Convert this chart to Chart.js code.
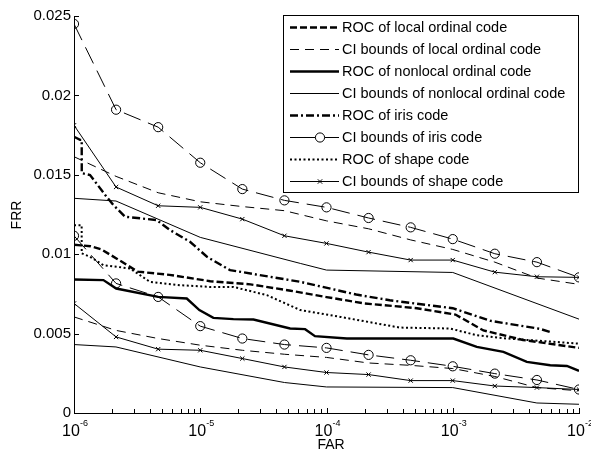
<!DOCTYPE html>
<html>
<head>
<meta charset="utf-8">
<script src="https://cdn.jsdelivr.net/npm/chart.js@4/dist/chart.umd.min.js"></script>
<style>
html,body{margin:0;padding:0;background:#fff;}
#wrap{width:591px;height:456px;}
</style>
</head>
<body>
<div id="wrap"><canvas id="c" width="591" height="456"></canvas></div>
<script>
// ---- data ----
const xThird = [1e-6, 2.154e-6, 4.642e-6, 1e-5, 2.154e-5, 4.642e-5, 1e-4, 2.154e-4, 4.642e-4, 1e-3, 2.154e-3, 4.642e-3, 1e-2];

const localRocX = [1e-6, 1.35e-6, 1.65e-6, 2.2e-6, 3.2e-6, 5.7e-6, 1.2e-5, 2.5e-5, 5.2e-5, 1e-4, 2e-4, 5.2e-4, 1.05e-3, 1.75e-3, 3.6e-3, 1e-2];
const localRocY = [0.0106, 0.0105, 0.0103, 0.0097, 0.0089, 0.0087, 0.0083, 0.0081, 0.0077, 0.0073, 0.0069, 0.0066, 0.0062, 0.0052, 0.0046, 0.0041];

const localCIUpper = [0.01614, 0.0149, 0.01387, 0.0133, 0.0130, 0.01274, 0.0121, 0.0116, 0.0109, 0.0103, 0.0095, 0.0085, 0.0081];
const localCILower = [0.00605, 0.0052, 0.00469, 0.00427, 0.00395, 0.0037, 0.0035, 0.00315, 0.0030, 0.0028, 0.0023, 0.0016, 0.0014];

const nonlocalRocX = [1e-6, 1.71e-6, 2.16e-6, 4.64e-6, 7.82e-6, 9.84e-6, 1.27e-5, 1.83e-5, 2.64e-5, 5.15e-5, 6.77e-5, 8.1e-5, 1.45e-4, 1.01e-3, 1.55e-3, 2.52e-3, 3.86e-3, 5.92e-3, 8.02e-3, 1e-2];
const nonlocalRocY = [0.00841, 0.00837, 0.00784, 0.00731, 0.00721, 0.00648, 0.00599, 0.00591, 0.00589, 0.00532, 0.00528, 0.00484, 0.00469, 0.00469, 0.00416, 0.00385, 0.00322, 0.00301, 0.00296, 0.00265];

const nonlocalCIUpperX = [1e-6, 2.15e-6, 1e-5, 6.2e-5, 1e-4, 1e-3, 1e-2];
const nonlocalCIUpperY = [0.01352, 0.01335, 0.01106, 0.00942, 0.0090, 0.00885, 0.00591];
const nonlocalCILowerX = [1e-6, 2.15e-6, 1e-5, 4.64e-5, 1e-4, 1e-3, 4.64e-3, 1e-2];
const nonlocalCILowerY = [0.00431, 0.00416, 0.0029, 0.00192, 0.00164, 0.0016, 0.00063, 0.00055];

const irisRocX = [1e-6, 1.116e-6, 1.151e-6, 1.152e-6, 1.34e-6, 1.81e-6, 2.05e-6, 2.54e-6, 4.52e-6, 5.76e-6, 8.3e-6, 1.13e-5, 1.72e-5, 6.2e-5, 1.72e-4, 3.17e-4, 1e-3, 2e-3, 4.9e-3, 5.92e-3];
const irisRocY = [0.0174, 0.0172, 0.0172, 0.0151, 0.01499, 0.01362, 0.0131, 0.01236, 0.01215, 0.01152, 0.01078, 0.00984, 0.0090, 0.00826, 0.00746, 0.0071, 0.0066, 0.0058, 0.0053, 0.0051];

const irisCIUpper = [0.0245, 0.0191, 0.0180, 0.01576, 0.0141, 0.01339, 0.01295, 0.01228, 0.01169, 0.01095, 0.01003, 0.0095, 0.00854];
const irisCILower = [0.01116, 0.00816, 0.00731, 0.00547, 0.00469, 0.00431, 0.0041, 0.00366, 0.00332, 0.00294, 0.00248, 0.00208, 0.00148];

const shapeRocX = [1e-6, 1.15e-6, 1.151e-6, 1.34e-6, 1.71e-6, 2.78e-6, 4.0e-6, 6.9e-6, 1.19e-5, 1.83e-5, 3.37e-5, 6.2e-5, 1.29e-4, 3.8e-4, 9.5e-4, 1.55e-3, 2.7e-3, 1e-2];
const shapeRocY = [0.01183, 0.01183, 0.01005, 0.00984, 0.00931, 0.0091, 0.00826, 0.00805, 0.00794, 0.00794, 0.00742, 0.00648, 0.00605, 0.00538, 0.00532, 0.0049, 0.00469, 0.00437];

const shapeCIUpper = [0.01812, 0.01423, 0.01305, 0.01295, 0.01221, 0.01116, 0.01068, 0.01013, 0.00963, 0.00963, 0.00887, 0.00858, 0.00854];
const shapeCILower = [0.0069, 0.00479, 0.00402, 0.00395, 0.00343, 0.0029, 0.00255, 0.00242, 0.00204, 0.00204, 0.0017, 0.0016, 0.00148];

const yTicks = [0, 0.005, 0.01, 0.015, 0.02, 0.025];
const yTickLabels = ['0', '0.005', '0.01', '0.015', '0.02', '0.025'];
const xDecades = [-6, -5, -4, -3, -2];

const legendLabels = [
  'ROC of local ordinal code',
  'CI bounds of local ordinal code',
  'ROC of nonlocal ordinal code',
  'CI bounds of nonlocal ordinal code',
  'ROC of iris code',
  'CI bounds of iris code',
  'ROC of shape code',
  'CI bounds of shape code'
];

// ---- styles ----
const styles = [
  {w: 2.4, dash: [7, 3], marker: null},
  {w: 1, dash: [9, 6], marker: null},
  {w: 2.4, dash: [], marker: null},
  {w: 1, dash: [], marker: null},
  {w: 2.4, dash: [8, 3, 2, 3], marker: null},
  {w: 1, dash: [], marker: 'circle', plotDash: [18, 8]},
  {w: 2, dash: [2, 2.5], marker: null},
  {w: 1, dash: [], marker: 'crossRot'}
];

function pts(xs, ys) { return xs.map((x, i) => ({x: x, y: ys[i]})); }

function ds(data, si, plotDash) {
  const s = styles[si];
  return {
    data: data,
    borderColor: '#000',
    borderWidth: s.w,
    borderDash: plotDash || s.dash,
    pointStyle: s.marker || 'circle',
    pointRadius: s.marker === 'circle' ? 4.6 : (s.marker === 'crossRot' ? 3 : 0),
    pointBorderColor: '#000',
    pointBackgroundColor: 'rgba(0,0,0,0)',
    pointBorderWidth: 1,
    fill: false,
    tension: 0,
    spanGaps: true
  };
}

const datasets = [
  ds(pts(xThird, localCIUpper), 1),
  ds(pts(xThird, localCILower), 1),
  ds(pts(nonlocalCIUpperX, nonlocalCIUpperY), 3),
  ds(pts(nonlocalCILowerX, nonlocalCILowerY), 3),
  ds(pts(xThird, irisCIUpper), 5, styles[5].plotDash),
  ds(pts(xThird, irisCILower), 5, styles[5].plotDash),
  ds(pts(xThird, shapeCIUpper), 7),
  ds(pts(xThird, shapeCILower), 7),
  ds(pts(localRocX, localRocY), 0),
  ds(pts(nonlocalRocX, nonlocalRocY), 2),
  ds(pts(irisRocX, irisRocY), 4),
  ds(pts(shapeRocX, shapeRocY), 6)
];

const FONT = "'Liberation Sans', Arial, sans-serif";

const decor = {
  id: 'decor',
  afterDatasetsDraw(chart) {
    const ctx = chart.ctx;
    const xs = chart.scales.x, ys = chart.scales.y;
    const a = chart.chartArea;
    ctx.save();
    ctx.strokeStyle = '#000';
    ctx.lineWidth = 1;
    ctx.setLineDash([]);
    // y ticks (inward)
    yTicks.forEach(v => {
      const py = Math.round(ys.getPixelForValue(v)) + 0.5;
      ctx.beginPath();
      ctx.moveTo(a.left, py);
      ctx.lineTo(a.left + 5, py);
      ctx.stroke();
    });
    // x ticks (inward), log major + minor
    for (let e = -6; e <= -2; e++) {
      for (let m = 1; m <= 9; m++) {
        const v = m * Math.pow(10, e);
        if (v > 1.0001e-2) break;
        const px = Math.round(xs.getPixelForValue(v)) + 0.5;
        const len = m === 1 ? 5 : 4;
        ctx.beginPath();
        ctx.moveTo(px, a.bottom);
        ctx.lineTo(px, a.bottom - len);
        ctx.stroke();
      }
    }
    // x tick labels 10^n
    ctx.fillStyle = '#000';
    ctx.textBaseline = 'alphabetic';
    xDecades.forEach(e => {
      const px = xs.getPixelForValue(Math.pow(10, e));
      ctx.font = '16px ' + FONT;
      const w1 = ctx.measureText('10').width;
      ctx.font = '9px ' + FONT;
      const sup = String(e);
      const w2 = ctx.measureText(sup).width;
      const x0 = px - (w1 + w2) / 2 + 1;
      ctx.font = '16px ' + FONT;
      ctx.textAlign = 'left';
      ctx.fillText('10', x0, 436);
      ctx.font = '9px ' + FONT;
      ctx.fillText(sup, x0 + w1, 426);
    });
    // axis titles
    ctx.font = '14px ' + FONT;
    ctx.textAlign = 'center';
    ctx.textBaseline = 'middle';
    ctx.fillText('FAR', 331, 445);
    ctx.save();
    ctx.translate(17, 215);
    ctx.rotate(-Math.PI / 2);
    ctx.fillText('FRR', 0, 0);
    ctx.restore();

    // legend
    const bx = 283.5, by = 15.5, bw = 295, bh = 177;
    ctx.fillStyle = '#fff';
    ctx.fillRect(bx, by, bw, bh);
    ctx.strokeStyle = '#000';
    ctx.lineWidth = 1;
    ctx.strokeRect(bx, by, bw, bh);
    const rowY0 = 27.5, rowH = 22;
    legendLabels.forEach((lab, i) => {
      const s = styles[i];
      const y = rowY0 + i * rowH;
      ctx.save();
      ctx.strokeStyle = '#000';
      ctx.lineWidth = s.w;
      ctx.setLineDash(s.dash);
      ctx.beginPath();
      ctx.moveTo(290, y);
      ctx.lineTo(339, y);
      ctx.stroke();
      ctx.setLineDash([]);
      ctx.lineWidth = 1;
      if (s.marker === 'circle') {
        ctx.fillStyle = '#fff';
        ctx.beginPath();
        ctx.arc(320, y, 4.6, 0, Math.PI * 2);
        ctx.fill();
        ctx.stroke();
      } else if (s.marker === 'crossRot') {
        ctx.beginPath();
        ctx.moveTo(320 - 2.2, y - 2.2); ctx.lineTo(320 + 2.2, y + 2.2);
        ctx.moveTo(320 - 2.2, y + 2.2); ctx.lineTo(320 + 2.2, y - 2.2);
        ctx.stroke();
      }
      ctx.restore();
      ctx.fillStyle = '#000';
      ctx.font = '14.5px ' + FONT;
      ctx.textAlign = 'left';
      ctx.textBaseline = 'middle';
      ctx.fillText(lab, 342, y + 0.5);
    });
    ctx.restore();
  }
};

new Chart(document.getElementById('c'), {
  type: 'line',
  data: {datasets: datasets},
  options: {
    responsive: false,
    animation: false,
    events: [],
    layout: {padding: {top: 16, right: 12, left: 0, bottom: 0}},
    plugins: {legend: {display: false}, tooltip: {enabled: false}},
    scales: {
      x: {
        type: 'logarithmic',
        min: 1e-6,
        max: 1e-2,
        grid: {display: false, drawTicks: false},
        border: {display: true, color: '#000', width: 1},
        ticks: {display: false},
        afterFit: s => { s.height = 43; }
      },
      y: {
        type: 'linear',
        min: 0,
        max: 0.025,
        grid: {display: false, drawTicks: false},
        border: {display: true, color: '#000', width: 1},
        afterBuildTicks: s => { s.ticks = yTicks.map(v => ({value: v})); },
        ticks: {
          color: '#000',
          padding: 3,
          font: {family: FONT, size: 15},
          callback: (v) => { const i = yTicks.findIndex(t => Math.abs(t - v) < 1e-9); return i >= 0 ? yTickLabels[i] : ''; }
        },
        afterFit: s => { s.width = 74; }
      }
    }
  },
  plugins: [decor]
});
</script>
</body>
</html>
